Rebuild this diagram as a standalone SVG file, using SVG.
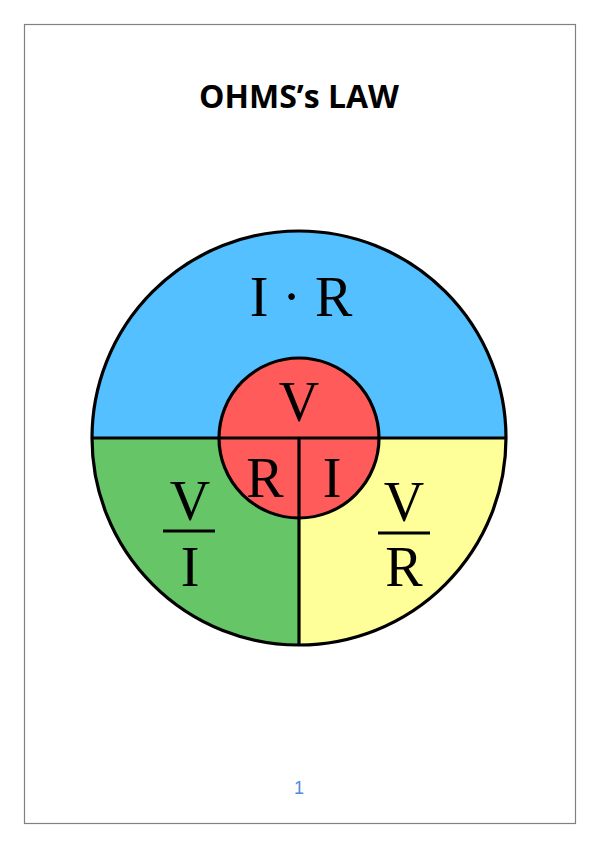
<svg xmlns="http://www.w3.org/2000/svg" width="599" height="848" viewBox="0 0 599 848">
<style>
.ln{stroke:#000;stroke-width:3.2;fill:none}
.sym{font-family:"Liberation Serif","DejaVu Serif",serif;fill:#000;text-anchor:middle;font-size:56px}
</style>
<rect x="0" y="0" width="599" height="848" fill="#fff"/>
<rect x="24.5" y="24.5" width="551" height="799" fill="none" stroke="#808080" stroke-width="1.2"/>
<g id="title"><text x="299" y="108" font-family="Open Sans, Liberation Sans, sans-serif" font-weight="bold" font-size="32" text-anchor="middle">OHMS’s LAW</text></g>
<g id="wheel">
<path id="top" d="M92,438 A207,207 0 0 1 506,438 Z" fill="#55C0FF"/>
<path id="left" d="M92,438 L299,438 L299,645 A207,207 0 0 1 92,438 Z" fill="#66C566"/>
<path id="right" d="M506,438 L299,438 L299,645 A207,207 0 0 0 506,438 Z" fill="#FFFF99"/>
<circle cx="299" cy="438" r="207" class="ln"/>
<line x1="92" y1="438" x2="506" y2="438" class="ln"/>
<line x1="299" y1="438" x2="299" y2="645" class="ln"/>
<circle id="center" cx="299" cy="438" r="80" fill="#FF5B5B" stroke="#000" stroke-width="3.2"/>
<line x1="219" y1="438" x2="379" y2="438" class="ln"/>
<line x1="299" y1="438" x2="299" y2="518" class="ln"/>
</g>
<g id="labels">
<text x="301" y="316" class="sym">I · R</text>
<text x="299" y="421" class="sym">V</text>
<text x="265" y="497" class="sym">R</text>
<text x="332" y="497" class="sym">I</text>
<text x="190" y="520" class="sym">V</text>
<line x1="163" y1="531" x2="215" y2="531" stroke="#000" stroke-width="3.2"/>
<text x="190" y="586" class="sym">I</text>
<text x="404" y="521" class="sym">V</text>
<line x1="378" y1="533" x2="430" y2="533" stroke="#000" stroke-width="3.2"/>
<text x="404" y="586" class="sym">R</text>
</g>
<g id="page"><text x="299" y="794" font-family="Liberation Sans, sans-serif" font-size="18" fill="#4A90D9" text-anchor="middle">1</text></g>
</svg>
